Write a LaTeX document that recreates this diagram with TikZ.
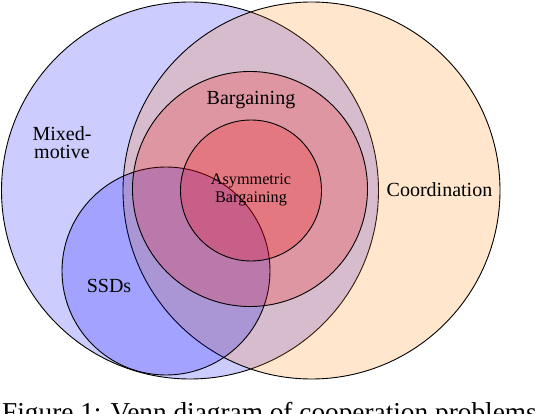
\documentclass[tikz,border=0pt]{standalone}
\usepackage{fontspec}
\setmainfont{Liberation Serif}
\begin{document}
\begin{tikzpicture}[x=1pt,y=-1pt,
  venn/.style={draw=black, line width=0.9pt, fill opacity=0.2},
  lbl/.style={font=\fontsize{20}{18}\selectfont, align=center, anchor=base, inner sep=0pt},
  smalllbl/.style={font=\fontsize{16.2}{18}\selectfont, align=center, anchor=base, inner sep=0pt}]
\useasboundingbox (0,0) rectangle (536,414);
\begin{scope}
\clip (0,0) rectangle (536,414);
% circles
\filldraw[venn, fill=blue]   (190,190.5) circle [radius=188.5pt];
\filldraw[venn, fill=orange] (311.5,190.5) circle [radius=188.5pt];
\filldraw[venn, fill=blue]   (166,271) circle [radius=104pt];
\filldraw[venn, fill=red]    (250,189) circle [radius=117.5pt];
\filldraw[venn, fill=red]    (251,190.5) circle [radius=70.5pt];
% labels
\node[lbl] (mixed) at (62,158.5) {Mixed-\\motive};
\node[lbl] (ssds) at (109,292.5) {SSDs};
\node[lbl] (barg) at (251,105) {Bargaining};
\node[smalllbl] (asym) at (251,203) {Asymmetric\\Bargaining};
\node[lbl] (coord) at (439.5,197) {Coordination};
% caption
\node[anchor=base west, inner sep=0pt, font=\fontsize{27.3}{30}\selectfont] (cap) at (2,421.5) {Figure 1: Venn diagram of cooperation problems};
\end{scope}
\end{tikzpicture}
\end{document}
